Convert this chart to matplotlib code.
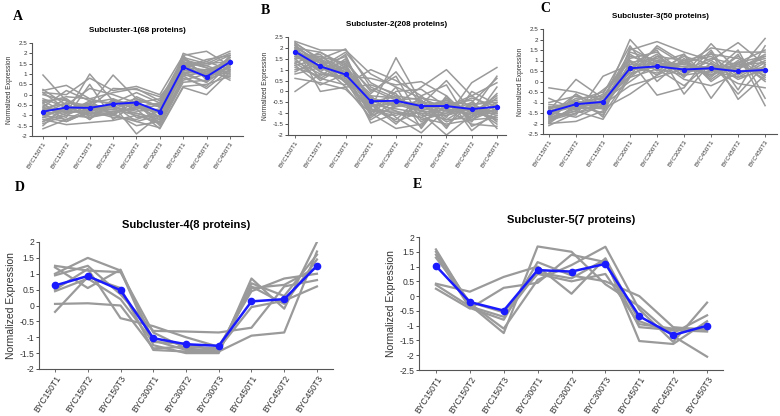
import matplotlib
matplotlib.use('Agg')
import matplotlib.pyplot as plt

plt.rcParams['font.family'] = ['Liberation Sans', 'DejaVu Sans']

samples = ['BYC150T1', 'BYC150T2', 'BYC150T3', 'BYC300T1', 'BYC300T2',
           'BYC300T3', 'BYC450T1', 'BYC450T2', 'BYC450T3']

# cluster means (blue lines)
mean_1 = [-0.82, -0.62, -0.64, -0.45, -0.38, -0.82, 1.33, 0.87, 1.58]
mean_2 = [1.83, 1.15, 0.78, -0.45, -0.43, -0.67, -0.67, -0.81, -0.70]
mean_3 = [-1.45, -1.08, -0.97, 0.63, 0.72, 0.57, 0.63, 0.48, 0.55]
mean_4 = [0.63, 0.93, 0.48, -1.03, -1.22, -1.27, 0.13, 0.20, 1.25]
mean_5 = [1.02, -0.20, -0.49, 0.88, 0.83, 1.09, -0.68, -1.32, -1.00]

# member proteins (grey lines)
prot_1 = [
    [-1.65, -1.2, -0.9, -1.0, -1.3, -1.6, 0.4, 0.5, 0.9],
    [0.95, -0.3, -0.8, -0.6, -0.9, -1.2, 1.2, 1.0, 1.5],
    [0.2, 0.45, -0.2, 0.1, 0.3, -0.3, 1.8, 1.5, 2.0],
    [-0.5, -0.9, 1.0, -0.3, -0.5, -0.9, 1.5, 0.8, 1.7],
    [-1.2, -1.45, -1.35, -1.25, -1.0, -1.4, 0.9, 0.3, 1.2],
    [-0.9, -0.4, -0.5, 0.95, -0.2, -0.6, 1.3, 1.2, 1.6],
    [0.1, 0.0, 0.8, 0.2, 0.4, 0.0, 1.9, 2.1, 1.4],
    [-1.0, -0.7, -0.6, -0.5, -1.9, -1.0, 1.0, 0.6, 1.9],
    [-0.3, -0.2, -0.9, -0.7, -0.3, -0.5, 1.6, 1.3, 0.7],
    [-1.4, -1.0, -1.1, -0.8, -0.7, -1.65, 0.35, 0.0, 1.1],
    [-0.7, -0.8, -0.4, -0.2, -0.6, -1.1, 2.0, 1.6, 2.1],
    [0.25, -0.5, 0.3, 0.0, -0.4, -0.2, 1.4, 0.9, 1.3],
    [-1.1, -1.3, -0.8, -1.1, -1.2, -0.8, 1.1, 1.0, 1.8],
    [-0.6, 0.2, -0.3, -0.4, 0.1, -0.4, 1.7, 1.4, 1.0],
    [-0.2, -0.6, -1.0, -0.9, -1.5, -1.3, 0.8, 0.4, 1.5],
    [-1.3, -0.9, -0.7, -0.6, -0.8, -0.7, 1.5, 1.1, 1.7],
    [-0.8, -1.1, 0.5, -1.2, -0.4, -1.5, 0.6, 0.7, 1.2],
    [0.0, -0.3, -0.6, 0.3, 0.25, -0.1, 1.3, 1.7, 1.9],
    [-1.5, -0.5, -1.2, -0.2, -1.1, -1.0, 1.0, 1.2, 0.8],
    [-0.4, -0.1, -0.2, -0.5, -0.2, -0.6, 1.8, 0.8, 1.4],
    [-0.9, -0.8, -0.9, -0.8, -0.9, -1.2, 1.4, 1.5, 1.6],
    [-0.6, -1.0, -0.5, -0.9, -0.6, -0.9, 1.6, 1.0, 1.3],
    [-1.1, -0.6, -1.0, -0.3, -0.7, -0.5, 1.2, 0.9, 1.8],
    [-0.3, -0.9, -0.3, -1.0, -0.3, -1.1, 1.7, 1.3, 1.1],
    [-1.0, -1.2, -0.7, -0.7, -1.0, -1.3, 1.1, 0.6, 1.4],
    [-0.7, -0.4, -1.2, -0.3, -0.5, -0.8, 1.5, 1.4, 1.9],
    [-1.3, -0.7, -0.4, -1.0, -0.1, -0.6, 0.9, 1.1, 1.0],
    [-0.4, -1.3, -0.8, -0.5, -1.3, -1.0, 1.9, 0.7, 1.6],
    [-0.8, -0.2, -1.1, -0.9, -0.6, -0.4, 1.3, 1.6, 1.2],
    [0.1, -0.7, -0.5, -0.6, -0.3, -1.4, 0.7, 1.0, 0.9],
]

prot_2 = [
    [2.3, 1.9, 1.9, 0.8, 0.2, -0.3, -0.5, -0.6, -0.5],
    [2.2, 1.5, 1.95, 0.2, -0.3, -0.8, -0.4, -1.0, -1.2],
    [2.0, 1.8, 1.2, -0.3, -0.6, 0.2, 1.0, -0.2, 0.4],
    [1.9, 1.3, 0.9, -1.45, -1.0, -1.2, -1.5, -1.3, -0.8],
    [1.7, 0.9, 0.5, -0.8, 1.55, -0.5, -0.9, -0.7, -1.0],
    [1.5, 1.6, 1.0, -0.2, -1.2, -1.9, -0.8, -1.5, -1.6],
    [1.3, 0.6, 0.3, 1.0, 0.5, -0.2, -1.2, 0.4, 1.1],
    [1.0, 1.2, 1.6, -0.6, -0.8, -1.0, -2.0, -1.1, -0.3],
    [0.6, 0.4, 0.1, -1.0, -1.7, -1.5, -0.6, -0.4, -1.7],
    [0.0, 0.8, 0.7, 0.6, 0.3, 0.45, -0.2, -1.8, -0.9],
    [2.1, 0.0, 0.2, -1.2, -0.4, -0.6, 0.5, -0.9, 0.7],
    [1.8, 1.0, 1.4, 0.0, 0.7, -1.3, -1.0, -0.5, -1.4],
    [1.6, 1.7, 0.6, -0.5, -1.4, -0.9, -1.3, -1.2, -0.1],
    [1.2, 0.3, 0.8, -1.1, 0.0, 0.1, -0.7, -0.8, -1.1],
    [0.8, 1.1, 1.8, 0.4, -0.2, -0.4, -1.7, 0.0, -0.6],
    [2.25, 1.4, 0.4, -0.9, -0.9, -1.6, -0.3, -1.4, 0.2],
    [1.9, 1.0, 1.1, -0.7, -0.5, -0.8, -0.9, -1.0, -1.0],
    [1.6, 1.2, 0.7, -0.3, -0.7, -0.5, -0.6, -1.1, -0.8],
    [2.0, 1.4, 1.0, -0.5, -0.2, -1.1, -1.1, -0.6, -0.4],
    [1.4, 0.8, 0.6, -0.9, -1.1, -0.7, -0.4, -0.9, -1.3],
    [1.7, 1.6, 1.3, 0.1, -0.4, -0.3, -0.8, -0.3, -0.7],
    [1.1, 0.7, 1.5, -0.4, -0.9, -1.2, -0.5, -1.2, -0.5],
    [2.15, 1.1, 0.5, -1.3, -0.6, -0.9, -1.0, -0.7, -1.5],
    [0.9, 1.5, 0.9, -0.1, 0.9, -0.6, -1.4, -1.0, -0.2],
    [1.5, 0.5, 1.2, -0.8, -1.3, -0.2, 0.3, -1.6, -1.1],
    [1.8, 1.3, 0.2, 0.3, -0.1, -1.4, -0.7, -0.2, -0.9],
    [1.3, 1.8, 1.1, -0.6, -1.5, -0.4, -1.6, -0.5, 0.6],
    [2.0, 0.9, 1.7, -1.0, 0.2, -1.7, -0.2, -1.3, -1.2],
    [1.6, 1.1, 0.9, -0.6, -0.6, -0.7, -0.8, -0.9, -0.9],
    [2.1, 1.3, 0.8, -0.8, -1.0, -1.0, -1.1, -0.8, -1.3],
    [1.2, 1.5, 0.4, -0.2, -0.3, -0.9, -0.5, -1.3, -0.6],
    [1.9, 0.6, 1.3, -1.1, -0.7, -0.4, -1.3, -0.6, -1.0],
]

prot_3 = [
    [-2.1, -1.5, -1.2, 0.5, 1.0, 0.8, 0.6, 0.9, 1.2],
    [-2.0, -1.9, -1.4, 1.5, 1.9, 1.4, 1.0, 1.85, 0.8],
    [-1.9, -1.2, -1.0, 2.0, 0.6, 0.3, 1.8, 0.5, 2.05],
    [-1.8, -1.4, -1.8, 0.2, 1.2, 1.0, 0.2, 1.3, -1.15],
    [-1.7, -0.9, -0.5, 1.0, -0.65, -0.3, 1.4, -0.85, 0.3],
    [-1.6, -0.6, -1.3, -0.6, 0.3, 1.3, -0.8, 0.9, 1.5],
    [-1.5, -1.6, 0.25, 0.8, 1.5, -0.6, 0.9, 0.1, 0.6],
    [-1.4, 0.1, -0.8, 1.2, 0.8, 0.6, 0.4, 1.5, -0.8],
    [-1.3, -1.0, -1.6, 0.3, 1.7, 0.9, 1.2, 0.3, 1.0],
    [-1.2, -1.3, -0.6, 1.7, 0.0, 1.1, 0.1, 1.0, 0.0],
    [-1.0, -0.7, -1.1, 0.6, 1.3, 0.2, 1.5, -0.4, 1.7],
    [-0.3, -0.5, -0.9, 0.0, 0.9, 0.7, 0.3, 1.2, 0.4],
    [-2.0, -1.1, -1.5, 1.3, 0.5, 1.2, 0.8, 0.6, 1.3],
    [-1.75, -1.3, -1.2, 0.9, 1.1, 0.5, 1.1, 0.8, 0.9],
    [-1.55, -0.8, -0.7, 0.4, 0.7, 0.9, 0.5, 0.2, 0.5],
    [-1.85, -1.5, -1.0, 1.1, 1.4, 0.4, 0.7, 0.7, 1.1],
    [-1.1, -1.2, -1.3, 0.7, 0.4, 1.0, 1.3, 1.1, 0.2],
    [-1.65, -1.0, -0.8, 1.4, 1.0, 0.1, -0.2, 0.4, 0.7],
    [-1.45, -1.7, -1.1, -0.2, 0.2, 0.6, 0.6, -0.1, -0.3],
    [-0.8, -1.35, -0.4, 0.6, 1.6, 0.8, 1.6, 1.4, 1.4],
    [-1.95, -0.6, -1.7, 1.6, 0.9, 1.3, 0.0, 0.9, 0.1],
    [-1.25, -1.1, -0.9, 0.2, 0.6, -0.2, 0.9, -0.6, 0.8],
    [-1.5, -1.2, -1.1, 0.8, 0.8, 0.7, 0.7, 0.5, 0.6],
    [-1.3, -0.9, -1.3, 0.5, 1.2, 0.4, 1.0, 0.2, 0.9],
    [-1.7, -1.4, -0.7, 1.0, 0.3, 0.9, 0.3, 0.8, 0.3],
    [-1.4, -1.0, -1.0, 0.3, 1.0, 0.3, 0.5, 0.6, 1.2],
]

prot_4 = [
    [1.25, 1.10, 1.05, -0.85, -1.35, -1.45, 0.55, 0.65, 1.20],
    [1.20, 0.55, 1.13, -1.10, -1.40, -1.40, 0.70, 0.30, 1.60],
    [1.00, 1.50, 1.10, -1.25, -1.50, -1.50, 0.85, -0.10, 2.00],
    [0.95, 1.25, 0.35, -0.80, -0.82, -0.85, -0.70, 0.60, 0.80],
    [0.50, 1.15, -0.40, -0.65, -1.00, -1.30, 0.45, 0.85, 1.00],
    [0.45, 0.85, 0.20, -1.15, -1.20, -1.45, 0.60, 0.05, 1.45],
    [0.05, 0.07, 0.00, -1.35, -1.30, -1.35, -0.05, 0.15, 0.60],
    [-0.20, 0.90, 0.55, -1.40, -1.45, -1.45, -0.95, -0.85, 1.70],
]

prot_5 = [
    [1.58, -0.30, -1.25, 1.68, 1.50, 0.40, -0.35, -1.35, -2.05],
    [1.50, -0.25, -1.10, 0.55, 1.05, 1.67, -0.45, -1.55, -0.22],
    [1.40, -0.40, -0.80, 1.15, 0.70, 0.50, 0.00, -1.05, -1.15],
    [0.42, 0.15, 0.65, 1.00, 0.08, 1.28, -0.85, -1.25, -0.65],
    [0.38, -0.35, -0.70, 0.80, 0.60, 1.25, -1.52, -1.62, -0.85],
    [0.25, -0.42, 0.28, 0.45, 1.40, 1.15, -1.05, -1.15, -1.20],
    [1.30, -0.20, -0.55, 0.75, 0.50, 0.75, -0.95, -1.10, -1.10],
]

titles = ['Subcluster-1(68 proteins)', 'Subcluster-2(208 proteins)',
          'Subcluster-3(50 proteins)', 'Subcluster-4(8 proteins)',
          'Subcluster-5(7 proteins)']

fig = plt.figure(figsize=(7.8, 4.16), dpi=100)


def panel(rect, prots, mean, title, ylim, yticks, xlim, small):
    ax = fig.add_axes(rect)
    x = range(len(samples))
    lw = 1.1 if small else 1.6
    for p in prots:
        ax.plot(x, p, color='#9a9a9a', lw=lw, zorder=1)
    ax.plot(x, mean, color='#1a1aff', lw=1.4 if small else 1.8,
            marker='o', ms=2.8 if small else 4.5, zorder=3)
    ax.set_xlim(*xlim)
    ax.set_ylim(*ylim)
    ax.set_yticks(yticks)
    ax.set_yticklabels(['%g' % v for v in yticks])
    ax.set_xticks(list(x))
    fs = 4.5 if small else 6.2
    ax.set_xticklabels(samples, rotation=57, ha='right',
                       rotation_mode='anchor', fontsize=fs, color='#333333')
    ax.tick_params(axis='y', labelsize=fs, colors='#333333', length=2,
                   width=0.6, pad=1.5)
    ax.tick_params(axis='x', length=2, width=0.6, color='#555555', pad=1.5)
    for s in ['top', 'right']:
        ax.spines[s].set_visible(False)
    for s in ['left', 'bottom']:
        ax.spines[s].set_color('#555555')
        ax.spines[s].set_linewidth(0.8)
    ax.set_ylabel('Normalized Expression', fontsize=4.8 if small else 7.5,
                  color='#333333', labelpad=2)
    ax.set_title(title, fontsize=5.8 if small else 8, fontweight='bold',
                 pad=8 if small else 10)
    return ax


ticks_a = [-2, -1.5, -1, -0.5, 0, 0.5, 1, 1.5, 2, 2.5]
ticks_c = [-2.5] + ticks_a
ticks_d = [-2, -1.5, -1, -0.5, 0, 0.5, 1, 1.5, 2]
ticks_e = [-2.5] + ticks_d

panel([32/780, 1-136/416, 211/780, 93/416], prot_1, mean_1, titles[0],
      (-2, 2.5), ticks_a, (-0.47, 8.56), True)
panel([288/780, 1-135/416, 218/780, 98/416], prot_2, mean_2, titles[1],
      (-2, 2.5), ticks_a, (-0.28, 8.36), True)
panel([543/780, 1-134/416, 234/780, 105/416], prot_3, mean_3, titles[2],
      (-2.5, 2.5), ticks_c, (-0.22, 8.44), True)
panel([39/780, 1-369/416, 294/780, 127/416], prot_4, mean_4, titles[3],
      (-2, 2), ticks_d, (-0.49, 8.49), False)
panel([419/780, 1-370/416, 304/780, 133/416], prot_5, mean_5, titles[4],
      (-2.5, 2), ticks_e, (-0.5, 8.47), False)

for lab, px, py in [('A', 18, 16), ('B', 265, 10), ('C', 545, 8),
                    ('D', 20, 188), ('E', 417, 185)]:
    fig.text(px/780, 1-py/416, lab, family='Liberation Serif',
             fontweight='bold', fontsize=10, ha='center', va='center')

fig.savefig('out.png', dpi=100)
